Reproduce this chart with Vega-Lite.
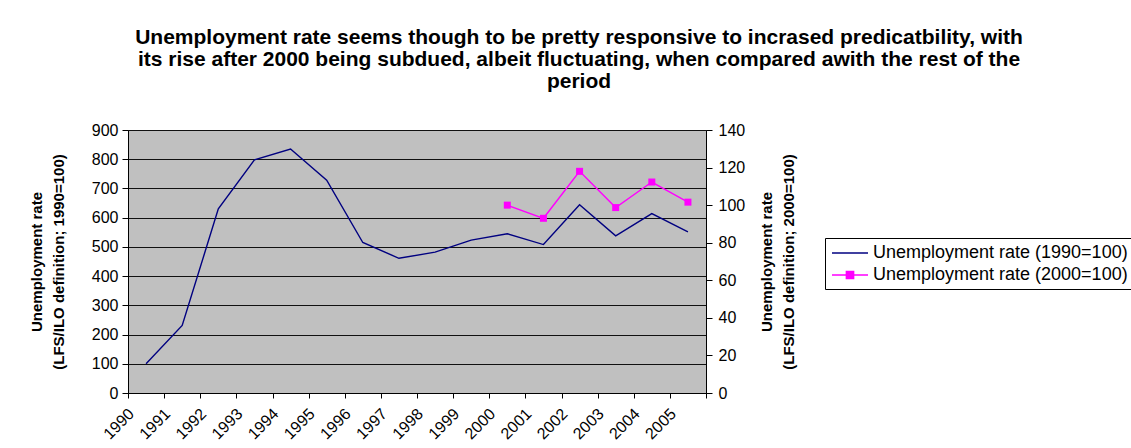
{
  "$schema": "https://vega.github.io/schema/vega-lite/v6.json",
  "autosize": "none",
  "width": 578,
  "height": 263,
  "padding": {"left": 128, "top": 130, "right": 425, "bottom": 55},
  "background": "white",
  "title": {
    "text": ["Unemployment rate seems though to be pretty responsive to incrased predicatbility, with", "its rise after 2000 being subdued, albeit fluctuating, when compared awith the rest of the", "period"],
    "anchor": "middle",
    "frame": "group",
    "dx": 162,
    "offset": 30,
    "font": "Liberation Sans",
    "fontSize": 21,
    "fontWeight": "bold",
    "lineHeight": 22,
    "color": "black"
  },
  "data": {
    "values": [
      {"year": 1990, "series": "Unemployment rate (1990=100)", "value": 100},
      {"year": 1991, "series": "Unemployment rate (1990=100)", "value": 231},
      {"year": 1992, "series": "Unemployment rate (1990=100)", "value": 630},
      {"year": 1993, "series": "Unemployment rate (1990=100)", "value": 798},
      {"year": 1994, "series": "Unemployment rate (1990=100)", "value": 835},
      {"year": 1995, "series": "Unemployment rate (1990=100)", "value": 728},
      {"year": 1996, "series": "Unemployment rate (1990=100)", "value": 515},
      {"year": 1997, "series": "Unemployment rate (1990=100)", "value": 461},
      {"year": 1998, "series": "Unemployment rate (1990=100)", "value": 482},
      {"year": 1999, "series": "Unemployment rate (1990=100)", "value": 523},
      {"year": 2000, "series": "Unemployment rate (1990=100)", "value": 545},
      {"year": 2001, "series": "Unemployment rate (1990=100)", "value": 508},
      {"year": 2002, "series": "Unemployment rate (1990=100)", "value": 644},
      {"year": 2003, "series": "Unemployment rate (1990=100)", "value": 538},
      {"year": 2004, "series": "Unemployment rate (1990=100)", "value": 614},
      {"year": 2005, "series": "Unemployment rate (1990=100)", "value": 551},
      {"year": 2000, "series": "Unemployment rate (2000=100)", "value": 100},
      {"year": 2001, "series": "Unemployment rate (2000=100)", "value": 93},
      {"year": 2002, "series": "Unemployment rate (2000=100)", "value": 118},
      {"year": 2003, "series": "Unemployment rate (2000=100)", "value": 98.7},
      {"year": 2004, "series": "Unemployment rate (2000=100)", "value": 112.3},
      {"year": 2005, "series": "Unemployment rate (2000=100)", "value": 101.6}
    ]
  },
  "encoding": {
    "x": {
      "field": "year",
      "type": "ordinal",
      "scale": {"type": "band", "paddingInner": 0, "paddingOuter": 0, "domain": [1990,1991,1992,1993,1994,1995,1996,1997,1998,1999,2000,2001,2002,2003,2004,2005]},
      "axis": {
        "title": null,
        "tickBand": "extent",
        "labelAngle": -45,
        "labelAlign": "right",
        "labelBaseline": "middle",
        "labelOffset": -15,
        "labelPadding": 13,
        "tickSize": 5,
        "grid": false
      }
    },
    "color": {
      "field": "series",
      "type": "nominal",
      "scale": {"domain": ["Unemployment rate (1990=100)", "Unemployment rate (2000=100)"], "range": ["#000080", "#ff00ff"]},
      "legend": {
        "title": null,
        "orient": "none",
        "legendX": 697,
        "legendY": 108,
        "direction": "vertical",
        "strokeColor": "black",
        "padding": 5,
        "labelFont": "Liberation Sans",
        "labelFontSize": 18,
        "labelColor": "black",
        "labelLimit": 258,
        "rowPadding": 3,
        "symbolSize": 324,
        "symbolStrokeWidth": 1.5,
        "symbolOffset": 10,
        "labelOffset": 13,
        "encode": {
          "labels": {
            "update": {
              "limit": {"value": 258},
              "ellipsis": {"value": " "}
            }
          },
          "symbols": {
            "update": {
              "shape": {"signal": "datum.value == 'Unemployment rate (1990=100)' ? 'M-2,0H2' : 'M-2,0H2M-0.4,-0.4H0.4V0.4H-0.4Z'"},
              "fill": {"signal": "datum.value == 'Unemployment rate (1990=100)' ? 'transparent' : '#ff00ff'"},
              "stroke": {"signal": "datum.value == 'Unemployment rate (1990=100)' ? '#000080' : '#ff00ff'"},
              "strokeWidth": {"value": 1.5}
            }
          }
        }
      }
    }
  },
  "layer": [
    {
      "transform": [{"filter": "datum.series == 'Unemployment rate (1990=100)'"}],
      "mark": {"type": "line", "strokeWidth": 1.4},
      "encoding": {
        "y": {
          "field": "value",
          "type": "quantitative",
          "scale": {"domain": [0, 900], "nice": false},
          "axis": {
            "orient": "left",
            "values": [0,100,200,300,400,500,600,700,800,900],
            "grid": true,
            "gridColor": "#111111",
            "gridWidth": 1,
            "tickSize": 6,
            "labelPadding": 4,
            "title": ["Unemployment rate", "(LFS/ILO definition; 1990=100)"],
            "titlePadding": 25,
            "titleLineHeight": 22
          }
        }
      }
    },
    {
      "transform": [{"filter": "datum.series == 'Unemployment rate (2000=100)'"}],
      "layer": [
        {"mark": {"type": "line", "strokeWidth": 1.4}, "encoding": {}},
        {"mark": {"type": "point", "shape": "square", "filled": true, "size": 49, "opacity": 1}, "encoding": {}}
      ],
      "encoding": {
        "y": {
          "field": "value",
          "type": "quantitative",
          "scale": {"domain": [0, 140], "nice": false},
          "axis": {
            "orient": "right",
            "values": [0,20,40,60,80,100,120,140],
            "grid": false,
            "tickSize": 6,
            "labelPadding": 6,
            "title": ["Unemployment rate", "(LFS/ILO definition; 2000=100)"],
            "titleAngle": 270,
            "titlePadding": 8,
            "titleLineHeight": 22
          }
        }
      }
    }
  ],
  "resolve": {"scale": {"y": "independent"}},
  "config": {
    "view": {"fill": "#c0c0c0", "stroke": "#808080", "strokeWidth": 1},
    "axis": {
      "labelFont": "Liberation Sans",
      "labelFontSize": 16,
      "labelColor": "black",
      "titleFont": "Liberation Sans",
      "titleFontSize": 15,
      "titleFontWeight": "bold",
      "titleColor": "black",
      "domainColor": "black",
      "domainWidth": 1,
      "tickColor": "black",
      "tickWidth": 1
    }
  }
}
